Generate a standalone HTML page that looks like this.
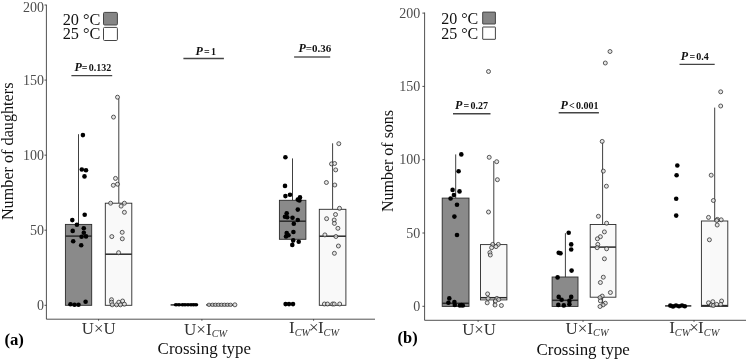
<!DOCTYPE html>
<html lang="en"><head><meta charset="utf-8"><title>Figure</title>
<style>
html,body{margin:0;padding:0;background:#fff;}
body{width:748px;height:361px;overflow:hidden;font-family:"Liberation Serif","Times New Roman",serif;}
svg{display:block;}
</style></head><body>
<svg width="748" height="361" viewBox="0 0 748 361" font-family="'Liberation Serif', 'Times New Roman', serif">
<rect width="748" height="361" fill="#fff"/>
<path d="M46.4 4.7 V319.2 H375" fill="none" stroke="#333" stroke-width="0.85"/>
<line x1="44.5" y1="5.0" x2="46.4" y2="5.0" stroke="#333" stroke-width="0.85"/>
<text x="43.9" y="11.80" font-size="14" fill="#4d4d4d" text-anchor="end">200</text>
<line x1="44.5" y1="80.1" x2="46.4" y2="80.1" stroke="#333" stroke-width="0.85"/>
<text x="43.9" y="84.70" font-size="14" fill="#4d4d4d" text-anchor="end">150</text>
<line x1="44.5" y1="155.15" x2="46.4" y2="155.15" stroke="#333" stroke-width="0.85"/>
<text x="43.9" y="159.75" font-size="14" fill="#4d4d4d" text-anchor="end">100</text>
<line x1="44.5" y1="230.2" x2="46.4" y2="230.2" stroke="#333" stroke-width="0.85"/>
<text x="43.9" y="234.80" font-size="14" fill="#4d4d4d" text-anchor="end">50</text>
<line x1="44.5" y1="305.3" x2="46.4" y2="305.3" stroke="#333" stroke-width="0.85"/>
<text x="43.9" y="309.90" font-size="14" fill="#4d4d4d" text-anchor="end">0</text>
<line x1="98.6" y1="319.2" x2="98.6" y2="320.7" stroke="#333" stroke-width="0.9"/>
<line x1="201.9" y1="319.2" x2="201.9" y2="320.7" stroke="#333" stroke-width="0.9"/>
<line x1="313.6" y1="319.2" x2="313.6" y2="320.7" stroke="#333" stroke-width="0.9"/>
<line x1="78.5" y1="134.2" x2="78.5" y2="224.4" stroke="#2a2a2a" stroke-width="0.9"/>
<rect x="65.4" y="224.4" width="26.30" height="80.90" fill="#8a8a8a" stroke="#2a2a2a" stroke-width="0.9"/>
<line x1="65.4" y1="236.1" x2="91.7" y2="236.1" stroke="#2a2a2a" stroke-width="1.5"/>
<line x1="118.8" y1="98.3" x2="118.8" y2="203.2" stroke="#2a2a2a" stroke-width="0.9"/>
<rect x="105.3" y="203.2" width="26.50" height="102.10" fill="#f9f9f9" stroke="#2a2a2a" stroke-width="0.9"/>
<line x1="105.3" y1="254.2" x2="131.8" y2="254.2" stroke="#2a2a2a" stroke-width="1.5"/>
<line x1="170.6" y1="304.9" x2="197.3" y2="304.9" stroke="#2a2a2a" stroke-width="1.5"/>
<line x1="206.3" y1="304.9" x2="233" y2="304.9" stroke="#2a2a2a" stroke-width="1.5"/>
<line x1="292.5" y1="158.4" x2="292.5" y2="200.3" stroke="#2a2a2a" stroke-width="0.9"/>
<line x1="292.5" y1="239.3" x2="292.5" y2="245.2" stroke="#2a2a2a" stroke-width="0.9"/>
<rect x="279.4" y="200.3" width="26.50" height="39.00" fill="#8a8a8a" stroke="#2a2a2a" stroke-width="0.9"/>
<line x1="279.4" y1="221.2" x2="305.9" y2="221.2" stroke="#2a2a2a" stroke-width="1.5"/>
<line x1="332.6" y1="143.3" x2="332.6" y2="209.3" stroke="#2a2a2a" stroke-width="0.9"/>
<rect x="319.3" y="209.3" width="26.60" height="96.00" fill="#f9f9f9" stroke="#2a2a2a" stroke-width="0.9"/>
<line x1="319.3" y1="236.2" x2="345.9" y2="236.2" stroke="#2a2a2a" stroke-width="1.5"/>
<ellipse cx="176" cy="304.8" rx="2.3" ry="1.8" fill="#000"/>
<ellipse cx="179" cy="304.8" rx="2.3" ry="1.8" fill="#000"/>
<ellipse cx="182.5" cy="304.8" rx="2.3" ry="1.8" fill="#000"/>
<ellipse cx="185" cy="304.8" rx="2.3" ry="1.8" fill="#000"/>
<ellipse cx="188" cy="304.8" rx="2.3" ry="1.8" fill="#000"/>
<ellipse cx="191" cy="304.8" rx="2.3" ry="1.8" fill="#000"/>
<ellipse cx="193.5" cy="304.8" rx="2.3" ry="1.8" fill="#000"/>
<ellipse cx="196" cy="304.8" rx="2.3" ry="1.8" fill="#000"/>
<ellipse cx="209" cy="304.8" rx="2.0" ry="1.65" fill="#dcdcdc" fill-opacity="0.75" stroke="#2a2a2a" stroke-width="0.75"/>
<ellipse cx="212.5" cy="304.8" rx="2.0" ry="1.65" fill="#dcdcdc" fill-opacity="0.75" stroke="#2a2a2a" stroke-width="0.75"/>
<ellipse cx="215.5" cy="304.8" rx="2.0" ry="1.65" fill="#dcdcdc" fill-opacity="0.75" stroke="#2a2a2a" stroke-width="0.75"/>
<ellipse cx="218.5" cy="304.8" rx="2.0" ry="1.65" fill="#dcdcdc" fill-opacity="0.75" stroke="#2a2a2a" stroke-width="0.75"/>
<ellipse cx="221.5" cy="304.8" rx="2.0" ry="1.65" fill="#dcdcdc" fill-opacity="0.75" stroke="#2a2a2a" stroke-width="0.75"/>
<ellipse cx="224.5" cy="304.8" rx="2.0" ry="1.65" fill="#dcdcdc" fill-opacity="0.75" stroke="#2a2a2a" stroke-width="0.75"/>
<ellipse cx="227.5" cy="304.8" rx="2.0" ry="1.65" fill="#dcdcdc" fill-opacity="0.75" stroke="#2a2a2a" stroke-width="0.75"/>
<ellipse cx="230.5" cy="304.8" rx="2.0" ry="1.65" fill="#dcdcdc" fill-opacity="0.75" stroke="#2a2a2a" stroke-width="0.75"/>
<circle cx="234.9" cy="304.8" r="2.0" fill="#dcdcdc" fill-opacity="0.75" stroke="#2a2a2a" stroke-width="0.75"/>
<circle cx="82.9" cy="135.1" r="2.3" fill="#000"/>
<circle cx="81.8" cy="169.5" r="2.3" fill="#000"/>
<circle cx="86.0" cy="170.2" r="2.3" fill="#000"/>
<circle cx="84.5" cy="176.4" r="2.3" fill="#000"/>
<circle cx="84.7" cy="214.8" r="2.3" fill="#000"/>
<circle cx="72.3" cy="220.1" r="2.3" fill="#000"/>
<circle cx="76.9" cy="224.7" r="2.3" fill="#000"/>
<circle cx="72.7" cy="230.9" r="2.3" fill="#000"/>
<circle cx="83.8" cy="228.3" r="2.3" fill="#000"/>
<circle cx="83.8" cy="232.7" r="2.3" fill="#000"/>
<circle cx="81.6" cy="236.7" r="2.3" fill="#000"/>
<circle cx="86" cy="236.4" r="2.3" fill="#000"/>
<circle cx="73.2" cy="241.2" r="2.3" fill="#000"/>
<circle cx="81.2" cy="245.2" r="2.3" fill="#000"/>
<circle cx="85.6" cy="301.7" r="2.3" fill="#000"/>
<circle cx="70.5" cy="304.2" r="2.3" fill="#000"/>
<circle cx="74.5" cy="304.8" r="2.3" fill="#000"/>
<circle cx="78.5" cy="304.8" r="2.3" fill="#000"/>
<circle cx="285.4" cy="157.3" r="2.3" fill="#000"/>
<circle cx="285" cy="185.9" r="2.3" fill="#000"/>
<circle cx="285.4" cy="196.1" r="2.3" fill="#000"/>
<circle cx="290" cy="194.7" r="2.3" fill="#000"/>
<circle cx="300" cy="197.4" r="2.3" fill="#000"/>
<circle cx="297.8" cy="199.6" r="2.3" fill="#000"/>
<circle cx="299.4" cy="200.5" r="2.3" fill="#000"/>
<circle cx="297.8" cy="209.6" r="2.3" fill="#000"/>
<circle cx="286.7" cy="213.2" r="2.3" fill="#000"/>
<circle cx="285" cy="216.7" r="2.3" fill="#000"/>
<circle cx="287.2" cy="217.2" r="2.3" fill="#000"/>
<circle cx="292.5" cy="217.8" r="2.3" fill="#000"/>
<circle cx="297.8" cy="220" r="2.3" fill="#000"/>
<circle cx="293.8" cy="223.8" r="2.3" fill="#000"/>
<circle cx="293.4" cy="232" r="2.3" fill="#000"/>
<circle cx="286.7" cy="233.1" r="2.3" fill="#000"/>
<circle cx="288.5" cy="235.3" r="2.3" fill="#000"/>
<circle cx="286" cy="236.5" r="2.3" fill="#000"/>
<circle cx="293.2" cy="240.4" r="2.3" fill="#000"/>
<circle cx="298.7" cy="241.8" r="2.3" fill="#000"/>
<circle cx="292.3" cy="244.9" r="2.3" fill="#000"/>
<circle cx="285.6" cy="304.1" r="2.3" fill="#000"/>
<circle cx="289" cy="304.1" r="2.3" fill="#000"/>
<circle cx="293" cy="304.1" r="2.3" fill="#000"/>
<circle cx="117.5" cy="97.2" r="2.0" fill="#dcdcdc" fill-opacity="0.75" stroke="#2a2a2a" stroke-width="0.75"/>
<circle cx="113.5" cy="117.1" r="2.0" fill="#dcdcdc" fill-opacity="0.75" stroke="#2a2a2a" stroke-width="0.75"/>
<circle cx="115.5" cy="178.4" r="2.0" fill="#dcdcdc" fill-opacity="0.75" stroke="#2a2a2a" stroke-width="0.75"/>
<circle cx="117.5" cy="184.2" r="2.0" fill="#dcdcdc" fill-opacity="0.75" stroke="#2a2a2a" stroke-width="0.75"/>
<circle cx="113.3" cy="185.3" r="2.0" fill="#dcdcdc" fill-opacity="0.75" stroke="#2a2a2a" stroke-width="0.75"/>
<circle cx="110.6" cy="203.2" r="2.0" fill="#dcdcdc" fill-opacity="0.75" stroke="#2a2a2a" stroke-width="0.75"/>
<circle cx="124.4" cy="203.2" r="2.0" fill="#dcdcdc" fill-opacity="0.75" stroke="#2a2a2a" stroke-width="0.75"/>
<circle cx="121.1" cy="206.1" r="2.0" fill="#dcdcdc" fill-opacity="0.75" stroke="#2a2a2a" stroke-width="0.75"/>
<circle cx="124.4" cy="212.3" r="2.0" fill="#dcdcdc" fill-opacity="0.75" stroke="#2a2a2a" stroke-width="0.75"/>
<circle cx="122.2" cy="232.3" r="2.0" fill="#dcdcdc" fill-opacity="0.75" stroke="#2a2a2a" stroke-width="0.75"/>
<circle cx="111.8" cy="236.6" r="2.0" fill="#dcdcdc" fill-opacity="0.75" stroke="#2a2a2a" stroke-width="0.75"/>
<circle cx="122.3" cy="238.8" r="2.0" fill="#dcdcdc" fill-opacity="0.75" stroke="#2a2a2a" stroke-width="0.75"/>
<circle cx="118.6" cy="252.7" r="2.0" fill="#dcdcdc" fill-opacity="0.75" stroke="#2a2a2a" stroke-width="0.75"/>
<circle cx="111.5" cy="299.7" r="2.0" fill="#dcdcdc" fill-opacity="0.75" stroke="#2a2a2a" stroke-width="0.75"/>
<circle cx="111.5" cy="302.2" r="2.0" fill="#dcdcdc" fill-opacity="0.75" stroke="#2a2a2a" stroke-width="0.75"/>
<circle cx="112.2" cy="304.8" r="2.0" fill="#dcdcdc" fill-opacity="0.75" stroke="#2a2a2a" stroke-width="0.75"/>
<circle cx="116.6" cy="304.8" r="2.0" fill="#dcdcdc" fill-opacity="0.75" stroke="#2a2a2a" stroke-width="0.75"/>
<circle cx="118.8" cy="302.2" r="2.0" fill="#dcdcdc" fill-opacity="0.75" stroke="#2a2a2a" stroke-width="0.75"/>
<circle cx="120.4" cy="304.8" r="2.0" fill="#dcdcdc" fill-opacity="0.75" stroke="#2a2a2a" stroke-width="0.75"/>
<circle cx="122.6" cy="301" r="2.0" fill="#dcdcdc" fill-opacity="0.75" stroke="#2a2a2a" stroke-width="0.75"/>
<circle cx="124.4" cy="304.2" r="2.0" fill="#dcdcdc" fill-opacity="0.75" stroke="#2a2a2a" stroke-width="0.75"/>
<circle cx="338.8" cy="143.7" r="2.0" fill="#dcdcdc" fill-opacity="0.75" stroke="#2a2a2a" stroke-width="0.75"/>
<circle cx="331.5" cy="163.9" r="2.0" fill="#dcdcdc" fill-opacity="0.75" stroke="#2a2a2a" stroke-width="0.75"/>
<circle cx="334.6" cy="163.5" r="2.0" fill="#dcdcdc" fill-opacity="0.75" stroke="#2a2a2a" stroke-width="0.75"/>
<circle cx="335.7" cy="169.9" r="2.0" fill="#dcdcdc" fill-opacity="0.75" stroke="#2a2a2a" stroke-width="0.75"/>
<circle cx="326.4" cy="182.5" r="2.0" fill="#dcdcdc" fill-opacity="0.75" stroke="#2a2a2a" stroke-width="0.75"/>
<circle cx="334.8" cy="185" r="2.0" fill="#dcdcdc" fill-opacity="0.75" stroke="#2a2a2a" stroke-width="0.75"/>
<circle cx="339.5" cy="208.3" r="2.0" fill="#dcdcdc" fill-opacity="0.75" stroke="#2a2a2a" stroke-width="0.75"/>
<circle cx="335.5" cy="214.5" r="2.0" fill="#dcdcdc" fill-opacity="0.75" stroke="#2a2a2a" stroke-width="0.75"/>
<circle cx="326.6" cy="218.7" r="2.0" fill="#dcdcdc" fill-opacity="0.75" stroke="#2a2a2a" stroke-width="0.75"/>
<circle cx="334.2" cy="220" r="2.0" fill="#dcdcdc" fill-opacity="0.75" stroke="#2a2a2a" stroke-width="0.75"/>
<circle cx="334.4" cy="223.4" r="2.0" fill="#dcdcdc" fill-opacity="0.75" stroke="#2a2a2a" stroke-width="0.75"/>
<circle cx="337.9" cy="228.3" r="2.0" fill="#dcdcdc" fill-opacity="0.75" stroke="#2a2a2a" stroke-width="0.75"/>
<circle cx="324.9" cy="234.9" r="2.0" fill="#dcdcdc" fill-opacity="0.75" stroke="#2a2a2a" stroke-width="0.75"/>
<circle cx="335.9" cy="236.5" r="2.0" fill="#dcdcdc" fill-opacity="0.75" stroke="#2a2a2a" stroke-width="0.75"/>
<circle cx="338.4" cy="246" r="2.0" fill="#dcdcdc" fill-opacity="0.75" stroke="#2a2a2a" stroke-width="0.75"/>
<circle cx="334.4" cy="253.3" r="2.0" fill="#dcdcdc" fill-opacity="0.75" stroke="#2a2a2a" stroke-width="0.75"/>
<circle cx="324.4" cy="304" r="2.0" fill="#dcdcdc" fill-opacity="0.75" stroke="#2a2a2a" stroke-width="0.75"/>
<circle cx="327.5" cy="304" r="2.0" fill="#dcdcdc" fill-opacity="0.75" stroke="#2a2a2a" stroke-width="0.75"/>
<circle cx="332.6" cy="304" r="2.0" fill="#dcdcdc" fill-opacity="0.75" stroke="#2a2a2a" stroke-width="0.75"/>
<circle cx="334.2" cy="304" r="2.0" fill="#dcdcdc" fill-opacity="0.75" stroke="#2a2a2a" stroke-width="0.75"/>
<circle cx="339.7" cy="304" r="2.0" fill="#dcdcdc" fill-opacity="0.75" stroke="#2a2a2a" stroke-width="0.75"/>
<text x="62.7" y="24.5" font-size="16.3" fill="#111">20 °C</text>
<text x="62.7" y="39.3" font-size="16.3" fill="#111">25 °C</text>
<rect x="103.5" y="12.4" width="13.9" height="12.6" rx="1.1" fill="#858585" stroke="#444" stroke-width="1"/>
<rect x="103.5" y="27.4" width="13.9" height="13.1" rx="1.1" fill="#fff" stroke="#444" stroke-width="1"/>
<text x="74.4" y="70.9" font-size="10" font-weight="bold" fill="#111" word-spacing="-1.25" xml:space="preserve"><tspan font-style="italic" font-size="12">P</tspan>= 0.132</text>
<line x1="71.4" y1="75.6" x2="112.2" y2="75.6" stroke="#444" stroke-width="1.4"/>
<text x="195.4" y="55.2" font-size="10" font-weight="bold" fill="#111" word-spacing="-1.25" xml:space="preserve"><tspan font-style="italic" font-size="12">P</tspan> = 1</text>
<line x1="183.4" y1="58.5" x2="223.9" y2="58.5" stroke="#444" stroke-width="1.4"/>
<text x="298.4" y="52.1" font-size="11" font-weight="bold" fill="#111" word-spacing="-1.25" xml:space="preserve"><tspan font-style="italic" font-size="12">P</tspan>=0.36</text>
<line x1="294.1" y1="57" x2="330.2" y2="57" stroke="#5a5a5a" stroke-width="1.7"/>
<text x="98.7" y="334.2" font-size="16.8" fill="#333" text-anchor="middle">U×U</text>
<text x="205.6" y="334.7" font-size="17" fill="#333" text-anchor="middle">U×I<tspan font-size="10.3" font-style="italic" dy="2.6">CW</tspan></text>
<text x="314.0" y="332.9" font-size="17" fill="#333" text-anchor="middle">I<tspan font-size="10.3" font-style="italic" dy="2.6">CW</tspan><tspan dy="-2.6" dx="-1">×</tspan><tspan dx="-0.8">I</tspan><tspan font-size="10.3" font-style="italic" dy="2.6">CW</tspan></text>
<text x="204.3" y="354.1" font-size="16.9" fill="#111" text-anchor="middle">Crossing type</text>
<text x="4.4" y="345.1" font-size="16.8" font-weight="bold" fill="#000">(a)</text>
<text transform="translate(12.9 151.3) rotate(-90)" font-size="16.2" fill="#111" text-anchor="middle">Number of daughters</text>
<path d="M424.6 12.5 V320.3 H746" fill="none" stroke="#333" stroke-width="0.85"/>
<line x1="422.4" y1="13.1" x2="424.6" y2="13.1" stroke="#333" stroke-width="0.85"/>
<text x="420.3" y="17.70" font-size="14" fill="#4d4d4d" text-anchor="end">200</text>
<line x1="422.4" y1="86.4" x2="424.6" y2="86.4" stroke="#333" stroke-width="0.85"/>
<text x="420.3" y="91.00" font-size="14" fill="#4d4d4d" text-anchor="end">150</text>
<line x1="422.4" y1="159.7" x2="424.6" y2="159.7" stroke="#333" stroke-width="0.85"/>
<text x="420.3" y="164.30" font-size="14" fill="#4d4d4d" text-anchor="end">100</text>
<line x1="422.4" y1="233.0" x2="424.6" y2="233.0" stroke="#333" stroke-width="0.85"/>
<text x="420.3" y="237.60" font-size="14" fill="#4d4d4d" text-anchor="end">50</text>
<line x1="422.4" y1="306.3" x2="424.6" y2="306.3" stroke="#333" stroke-width="0.85"/>
<text x="420.3" y="310.90" font-size="14" fill="#4d4d4d" text-anchor="end">0</text>
<line x1="478.1" y1="320.3" x2="478.1" y2="321.8" stroke="#333" stroke-width="0.9"/>
<line x1="583" y1="320.3" x2="583" y2="321.8" stroke="#333" stroke-width="0.9"/>
<line x1="694" y1="320.3" x2="694" y2="321.8" stroke="#333" stroke-width="0.9"/>
<line x1="455.7" y1="154.4" x2="455.7" y2="198.1" stroke="#2a2a2a" stroke-width="0.9"/>
<rect x="442.2" y="198.1" width="26.80" height="108.30" fill="#8a8a8a" stroke="#2a2a2a" stroke-width="0.9"/>
<line x1="442.2" y1="303.3" x2="469" y2="303.3" stroke="#2a2a2a" stroke-width="1.5"/>
<line x1="493.8" y1="161" x2="493.8" y2="244.6" stroke="#2a2a2a" stroke-width="0.9"/>
<line x1="493.8" y1="299.9" x2="493.8" y2="306.4" stroke="#2a2a2a" stroke-width="0.9"/>
<rect x="480.5" y="244.6" width="26.40" height="55.30" fill="#f9f9f9" stroke="#2a2a2a" stroke-width="0.9"/>
<line x1="480.5" y1="297.7" x2="506.9" y2="297.7" stroke="#2a2a2a" stroke-width="1.5"/>
<line x1="565.4" y1="233.2" x2="565.4" y2="277" stroke="#2a2a2a" stroke-width="0.9"/>
<rect x="552.1" y="277" width="25.90" height="29.40" fill="#8a8a8a" stroke="#2a2a2a" stroke-width="0.9"/>
<line x1="552.1" y1="300.3" x2="578" y2="300.3" stroke="#2a2a2a" stroke-width="1.5"/>
<line x1="602.6" y1="142.1" x2="602.6" y2="224.5" stroke="#2a2a2a" stroke-width="0.9"/>
<line x1="602.6" y1="297.2" x2="602.6" y2="306.4" stroke="#2a2a2a" stroke-width="0.9"/>
<rect x="590.2" y="224.5" width="25.70" height="72.70" fill="#f9f9f9" stroke="#2a2a2a" stroke-width="0.9"/>
<line x1="590.2" y1="247.1" x2="615.9" y2="247.1" stroke="#2a2a2a" stroke-width="1.5"/>
<line x1="665.1" y1="305.9" x2="691.3" y2="305.9" stroke="#2a2a2a" stroke-width="1.5"/>
<line x1="714.7" y1="107.6" x2="714.7" y2="221" stroke="#2a2a2a" stroke-width="0.9"/>
<rect x="701.4" y="221" width="26.40" height="85.40" fill="#f9f9f9" stroke="#2a2a2a" stroke-width="0.9"/>
<line x1="701.4" y1="305.6" x2="727.8" y2="305.6" stroke="#2a2a2a" stroke-width="1.5"/>
<circle cx="461.3" cy="154.4" r="2.3" fill="#000"/>
<circle cx="458.6" cy="171.3" r="2.3" fill="#000"/>
<circle cx="452.6" cy="189.9" r="2.3" fill="#000"/>
<circle cx="459.5" cy="191.4" r="2.3" fill="#000"/>
<circle cx="453.9" cy="195" r="2.3" fill="#000"/>
<circle cx="450.6" cy="198.5" r="2.3" fill="#000"/>
<circle cx="457" cy="204.7" r="2.3" fill="#000"/>
<circle cx="454.4" cy="216.6" r="2.3" fill="#000"/>
<circle cx="457" cy="235" r="2.3" fill="#000"/>
<circle cx="449.3" cy="298.4" r="2.3" fill="#000"/>
<circle cx="448.4" cy="302.8" r="2.3" fill="#000"/>
<circle cx="454.4" cy="302.1" r="2.3" fill="#000"/>
<circle cx="454.8" cy="305" r="2.3" fill="#000"/>
<circle cx="459.9" cy="305.5" r="2.3" fill="#000"/>
<circle cx="462.8" cy="305.5" r="2.3" fill="#000"/>
<circle cx="461.5" cy="305" r="2.3" fill="#000"/>
<circle cx="568.7" cy="232.8" r="2.3" fill="#000"/>
<circle cx="571.2" cy="244.4" r="2.3" fill="#000"/>
<circle cx="571.2" cy="249.5" r="2.3" fill="#000"/>
<circle cx="558.7" cy="252.8" r="2.3" fill="#000"/>
<circle cx="560.5" cy="253.3" r="2.3" fill="#000"/>
<circle cx="571.6" cy="270.6" r="2.3" fill="#000"/>
<circle cx="557.6" cy="277.4" r="2.3" fill="#000"/>
<circle cx="558.7" cy="296.9" r="2.3" fill="#000"/>
<circle cx="571.2" cy="296.9" r="2.3" fill="#000"/>
<circle cx="561.6" cy="299.8" r="2.3" fill="#000"/>
<circle cx="569.4" cy="300.9" r="2.3" fill="#000"/>
<circle cx="558.3" cy="304.9" r="2.3" fill="#000"/>
<circle cx="563.8" cy="305.4" r="2.3" fill="#000"/>
<circle cx="569.4" cy="304.3" r="2.3" fill="#000"/>
<circle cx="677.3" cy="165.5" r="2.3" fill="#000"/>
<circle cx="676.6" cy="175.2" r="2.3" fill="#000"/>
<circle cx="676.2" cy="198.7" r="2.3" fill="#000"/>
<circle cx="676.2" cy="215.6" r="2.3" fill="#000"/>
<circle cx="670.3" cy="305.6" r="2.3" fill="#000"/>
<circle cx="673" cy="306.4" r="2.3" fill="#000"/>
<circle cx="676" cy="305.5" r="2.3" fill="#000"/>
<circle cx="679" cy="306.3" r="2.3" fill="#000"/>
<circle cx="682" cy="305.5" r="2.3" fill="#000"/>
<circle cx="684.8" cy="306.2" r="2.3" fill="#000"/>
<circle cx="488.5" cy="71.5" r="2.0" fill="#dcdcdc" fill-opacity="0.75" stroke="#2a2a2a" stroke-width="0.75"/>
<circle cx="489.2" cy="157.3" r="2.0" fill="#dcdcdc" fill-opacity="0.75" stroke="#2a2a2a" stroke-width="0.75"/>
<circle cx="496.7" cy="161.7" r="2.0" fill="#dcdcdc" fill-opacity="0.75" stroke="#2a2a2a" stroke-width="0.75"/>
<circle cx="497.4" cy="179.7" r="2.0" fill="#dcdcdc" fill-opacity="0.75" stroke="#2a2a2a" stroke-width="0.75"/>
<circle cx="488.5" cy="212" r="2.0" fill="#dcdcdc" fill-opacity="0.75" stroke="#2a2a2a" stroke-width="0.75"/>
<circle cx="492.7" cy="244.4" r="2.0" fill="#dcdcdc" fill-opacity="0.75" stroke="#2a2a2a" stroke-width="0.75"/>
<circle cx="498.3" cy="244.4" r="2.0" fill="#dcdcdc" fill-opacity="0.75" stroke="#2a2a2a" stroke-width="0.75"/>
<circle cx="496" cy="246.6" r="2.0" fill="#dcdcdc" fill-opacity="0.75" stroke="#2a2a2a" stroke-width="0.75"/>
<circle cx="491.6" cy="247.7" r="2.0" fill="#dcdcdc" fill-opacity="0.75" stroke="#2a2a2a" stroke-width="0.75"/>
<circle cx="489.9" cy="252.6" r="2.0" fill="#dcdcdc" fill-opacity="0.75" stroke="#2a2a2a" stroke-width="0.75"/>
<circle cx="490.3" cy="255" r="2.0" fill="#dcdcdc" fill-opacity="0.75" stroke="#2a2a2a" stroke-width="0.75"/>
<circle cx="487.6" cy="293.9" r="2.0" fill="#dcdcdc" fill-opacity="0.75" stroke="#2a2a2a" stroke-width="0.75"/>
<circle cx="488.1" cy="298.4" r="2.0" fill="#dcdcdc" fill-opacity="0.75" stroke="#2a2a2a" stroke-width="0.75"/>
<circle cx="496.9" cy="298.4" r="2.0" fill="#dcdcdc" fill-opacity="0.75" stroke="#2a2a2a" stroke-width="0.75"/>
<circle cx="487.2" cy="302.8" r="2.0" fill="#dcdcdc" fill-opacity="0.75" stroke="#2a2a2a" stroke-width="0.75"/>
<circle cx="495.4" cy="301" r="2.0" fill="#dcdcdc" fill-opacity="0.75" stroke="#2a2a2a" stroke-width="0.75"/>
<circle cx="495" cy="305" r="2.0" fill="#dcdcdc" fill-opacity="0.75" stroke="#2a2a2a" stroke-width="0.75"/>
<circle cx="501.4" cy="305.5" r="2.0" fill="#dcdcdc" fill-opacity="0.75" stroke="#2a2a2a" stroke-width="0.75"/>
<circle cx="498.7" cy="299.5" r="2.0" fill="#dcdcdc" fill-opacity="0.75" stroke="#2a2a2a" stroke-width="0.75"/>
<circle cx="610" cy="51.5" r="2.0" fill="#dcdcdc" fill-opacity="0.75" stroke="#2a2a2a" stroke-width="0.75"/>
<circle cx="605.3" cy="63" r="2.0" fill="#dcdcdc" fill-opacity="0.75" stroke="#2a2a2a" stroke-width="0.75"/>
<circle cx="602.2" cy="141.4" r="2.0" fill="#dcdcdc" fill-opacity="0.75" stroke="#2a2a2a" stroke-width="0.75"/>
<circle cx="603.3" cy="171.1" r="2.0" fill="#dcdcdc" fill-opacity="0.75" stroke="#2a2a2a" stroke-width="0.75"/>
<circle cx="606.4" cy="186.2" r="2.0" fill="#dcdcdc" fill-opacity="0.75" stroke="#2a2a2a" stroke-width="0.75"/>
<circle cx="598.4" cy="216.3" r="2.0" fill="#dcdcdc" fill-opacity="0.75" stroke="#2a2a2a" stroke-width="0.75"/>
<circle cx="606.6" cy="223.2" r="2.0" fill="#dcdcdc" fill-opacity="0.75" stroke="#2a2a2a" stroke-width="0.75"/>
<circle cx="604.4" cy="231.9" r="2.0" fill="#dcdcdc" fill-opacity="0.75" stroke="#2a2a2a" stroke-width="0.75"/>
<circle cx="600.4" cy="236.7" r="2.0" fill="#dcdcdc" fill-opacity="0.75" stroke="#2a2a2a" stroke-width="0.75"/>
<circle cx="597.4" cy="238.8" r="2.0" fill="#dcdcdc" fill-opacity="0.75" stroke="#2a2a2a" stroke-width="0.75"/>
<circle cx="597.8" cy="244.4" r="2.0" fill="#dcdcdc" fill-opacity="0.75" stroke="#2a2a2a" stroke-width="0.75"/>
<circle cx="597.1" cy="247.7" r="2.0" fill="#dcdcdc" fill-opacity="0.75" stroke="#2a2a2a" stroke-width="0.75"/>
<circle cx="606.6" cy="248.8" r="2.0" fill="#dcdcdc" fill-opacity="0.75" stroke="#2a2a2a" stroke-width="0.75"/>
<circle cx="604.4" cy="258.8" r="2.0" fill="#dcdcdc" fill-opacity="0.75" stroke="#2a2a2a" stroke-width="0.75"/>
<circle cx="603.3" cy="277.2" r="2.0" fill="#dcdcdc" fill-opacity="0.75" stroke="#2a2a2a" stroke-width="0.75"/>
<circle cx="600.4" cy="282.5" r="2.0" fill="#dcdcdc" fill-opacity="0.75" stroke="#2a2a2a" stroke-width="0.75"/>
<circle cx="610.4" cy="292.5" r="2.0" fill="#dcdcdc" fill-opacity="0.75" stroke="#2a2a2a" stroke-width="0.75"/>
<circle cx="602.2" cy="296.1" r="2.0" fill="#dcdcdc" fill-opacity="0.75" stroke="#2a2a2a" stroke-width="0.75"/>
<circle cx="600" cy="297.6" r="2.0" fill="#dcdcdc" fill-opacity="0.75" stroke="#2a2a2a" stroke-width="0.75"/>
<circle cx="600.4" cy="300.9" r="2.0" fill="#dcdcdc" fill-opacity="0.75" stroke="#2a2a2a" stroke-width="0.75"/>
<circle cx="605.3" cy="303.2" r="2.0" fill="#dcdcdc" fill-opacity="0.75" stroke="#2a2a2a" stroke-width="0.75"/>
<circle cx="603.1" cy="304.9" r="2.0" fill="#dcdcdc" fill-opacity="0.75" stroke="#2a2a2a" stroke-width="0.75"/>
<circle cx="600" cy="306.5" r="2.0" fill="#dcdcdc" fill-opacity="0.75" stroke="#2a2a2a" stroke-width="0.75"/>
<circle cx="720.7" cy="91.8" r="2.0" fill="#dcdcdc" fill-opacity="0.75" stroke="#2a2a2a" stroke-width="0.75"/>
<circle cx="720.7" cy="106" r="2.0" fill="#dcdcdc" fill-opacity="0.75" stroke="#2a2a2a" stroke-width="0.75"/>
<circle cx="711.2" cy="175.2" r="2.0" fill="#dcdcdc" fill-opacity="0.75" stroke="#2a2a2a" stroke-width="0.75"/>
<circle cx="713.4" cy="200.5" r="2.0" fill="#dcdcdc" fill-opacity="0.75" stroke="#2a2a2a" stroke-width="0.75"/>
<circle cx="708.5" cy="217.4" r="2.0" fill="#dcdcdc" fill-opacity="0.75" stroke="#2a2a2a" stroke-width="0.75"/>
<circle cx="717.4" cy="219.4" r="2.0" fill="#dcdcdc" fill-opacity="0.75" stroke="#2a2a2a" stroke-width="0.75"/>
<circle cx="721.2" cy="219.8" r="2.0" fill="#dcdcdc" fill-opacity="0.75" stroke="#2a2a2a" stroke-width="0.75"/>
<circle cx="716.7" cy="220.5" r="2.0" fill="#dcdcdc" fill-opacity="0.75" stroke="#2a2a2a" stroke-width="0.75"/>
<circle cx="717.2" cy="225" r="2.0" fill="#dcdcdc" fill-opacity="0.75" stroke="#2a2a2a" stroke-width="0.75"/>
<circle cx="709.4" cy="239.8" r="2.0" fill="#dcdcdc" fill-opacity="0.75" stroke="#2a2a2a" stroke-width="0.75"/>
<circle cx="708.5" cy="302.8" r="2.0" fill="#dcdcdc" fill-opacity="0.75" stroke="#2a2a2a" stroke-width="0.75"/>
<circle cx="712.8" cy="301.7" r="2.0" fill="#dcdcdc" fill-opacity="0.75" stroke="#2a2a2a" stroke-width="0.75"/>
<circle cx="721.6" cy="301" r="2.0" fill="#dcdcdc" fill-opacity="0.75" stroke="#2a2a2a" stroke-width="0.75"/>
<circle cx="711.2" cy="305" r="2.0" fill="#dcdcdc" fill-opacity="0.75" stroke="#2a2a2a" stroke-width="0.75"/>
<circle cx="713.4" cy="305.5" r="2.0" fill="#dcdcdc" fill-opacity="0.75" stroke="#2a2a2a" stroke-width="0.75"/>
<circle cx="716.7" cy="304.4" r="2.0" fill="#dcdcdc" fill-opacity="0.75" stroke="#2a2a2a" stroke-width="0.75"/>
<circle cx="720.7" cy="304.4" r="2.0" fill="#dcdcdc" fill-opacity="0.75" stroke="#2a2a2a" stroke-width="0.75"/>
<text x="441.2" y="23.7" font-size="16" fill="#111">20 °C</text>
<text x="441.2" y="38.5" font-size="16" fill="#111">25 °C</text>
<rect x="482.7" y="12.1" width="12.7" height="11.9" rx="0.3" fill="#858585" stroke="#444" stroke-width="1"/>
<rect x="482.7" y="27.0" width="12.7" height="12.3" rx="0.3" fill="#fff" stroke="#444" stroke-width="1"/>
<text x="455" y="109.2" font-size="10" font-weight="bold" fill="#111" word-spacing="-1.25" xml:space="preserve"><tspan font-style="italic" font-size="12">P</tspan> = 0.27</text>
<line x1="453" y1="113.8" x2="490.5" y2="113.8" stroke="#444" stroke-width="1.4"/>
<text x="560.5" y="108.8" font-size="10" font-weight="bold" fill="#111" word-spacing="-1.25" xml:space="preserve"><tspan font-style="italic" font-size="12">P</tspan> &lt; 0.001</text>
<line x1="558.7" y1="112.8" x2="598.9" y2="112.8" stroke="#444" stroke-width="1.4"/>
<text x="680.8" y="59.9" font-size="10" font-weight="bold" fill="#111" word-spacing="-1.25" xml:space="preserve"><tspan font-style="italic" font-size="12">P</tspan> = 0.4</text>
<line x1="679.5" y1="64.4" x2="714.7" y2="64.4" stroke="#444" stroke-width="1.4"/>
<text x="479" y="334.7" font-size="16.8" fill="#333" text-anchor="middle">U×U</text>
<text x="587" y="333.8" font-size="17" fill="#333" text-anchor="middle">U×I<tspan font-size="10.3" font-style="italic" dy="2.6">CW</tspan></text>
<text x="694.2" y="332.9" font-size="17" fill="#333" text-anchor="middle">I<tspan font-size="10.3" font-style="italic" dy="2.6">CW</tspan><tspan dy="-2.6" dx="-1">×</tspan><tspan dx="-0.8">I</tspan><tspan font-size="10.3" font-style="italic" dy="2.6">CW</tspan></text>
<text x="583.2" y="354.9" font-size="16.9" fill="#111" text-anchor="middle">Crossing type</text>
<text x="397.6" y="343.1" font-size="16.4" font-weight="bold" fill="#000">(b)</text>
<text transform="translate(393.1 161) rotate(-90)" font-size="16" fill="#111" text-anchor="middle">Number of sons</text>
</svg>
</body></html>
